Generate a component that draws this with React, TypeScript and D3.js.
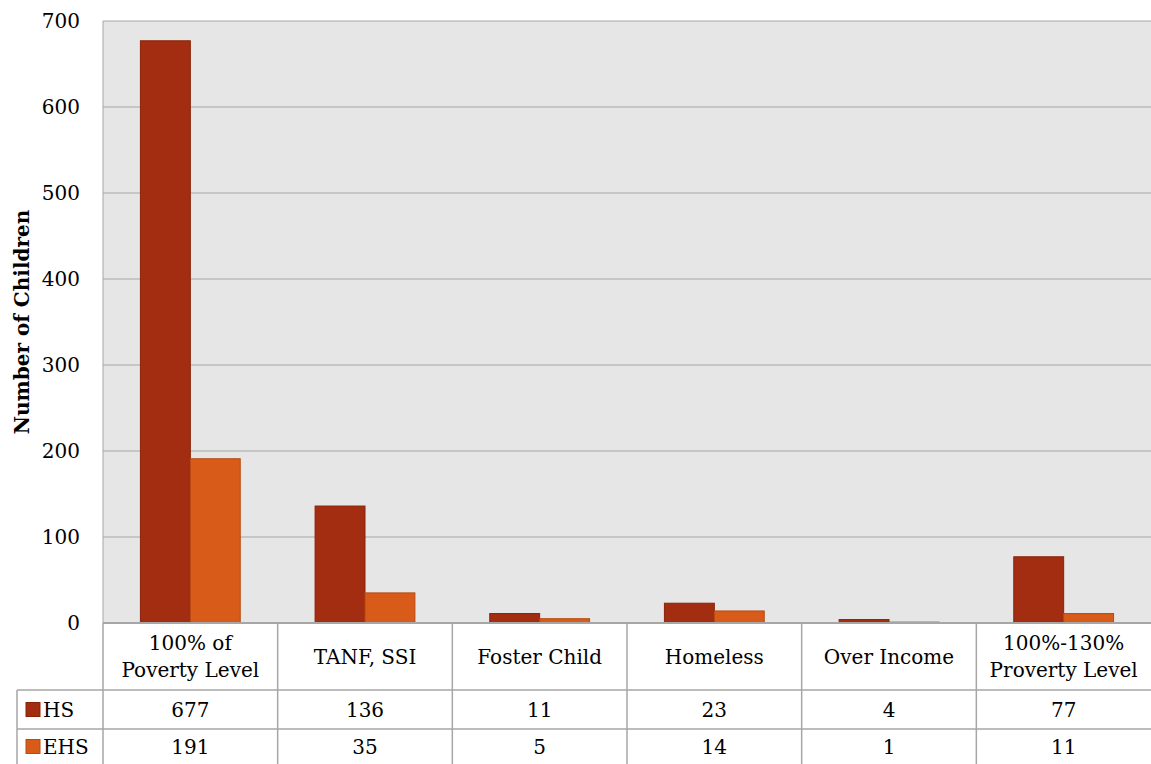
import React from "react";
import * as d3 from "d3";

const categories: string[][] = [
  ["100% of", "Poverty Level"],
  ["TANF, SSI"],
  ["Foster Child"],
  ["Homeless"],
  ["Over Income"],
  ["100%-130%", "Proverty Level"],
];
const seriesNames = ["HS", "EHS"];
const hsValues = [677, 136, 11, 23, 4, 77];
const ehsValues = [191, 35, 5, 14, 1, 11];
const yTicks = [0, 100, 200, 300, 400, 500, 600, 700];
const colors = ["#A32D11", "#D95B1A"];
const strokes = ["#8A2208", "#B84A12"];

export default function App() {
  const W = 1151, H = 764;
  const left = 103, right = 1151, top = 21, bottom = 623;
  const rowH1 = 690, rowH2 = 729, tableBottom = 764, legendLeft = 17;
  const font = "'DejaVu Serif', serif";
  const fs = 20;
  const ts: React.CSSProperties = { fontFamily: font, fontSize: fs };

  const x0 = d3.scaleBand<number>().domain(d3.range(categories.length)).range([left, right]).paddingInner(0).paddingOuter(0);
  const bw = x0.bandwidth();
  const x1 = d3.scaleBand<number>().domain([0, 1]).range([0, bw]).paddingOuter(0.75).paddingInner(0);
  const y = d3.scaleLinear().domain([0, 700]).range([bottom, top]);
  const series = [hsValues, ehsValues];
  const gridColor = "#A6A6A6";

  return (
    <svg width={W} height={H} style={{ display: "block", position: "absolute", left: 0, top: 0 }}>
      <rect x={left} y={top} width={right - left} height={bottom - top} fill="#E6E6E6" />
      {yTicks.map((t) => (
        <g key={t}>
          {t > 0 && <line x1={left} x2={right} y1={y(t)} y2={y(t)} stroke={gridColor} strokeWidth={1} />}
          <text x={80} y={y(t)} dy="0.35em" textAnchor="end" style={ts} fill="#000">{t}</text>
        </g>
      ))}
      <line x1={left} x2={left} y1={top} y2={bottom} stroke={gridColor} />
      {series.map((vals, si) =>
        vals.map((v, ci) => (
          <rect key={`${si}-${ci}`} x={(x0(ci) as number) + (x1(si) as number)} y={y(v)} width={x1.bandwidth()} height={bottom - y(v)} fill={colors[si]} stroke={strokes[si]} strokeWidth={1} />
        ))
      )}
      <line x1={left} x2={right} y1={bottom} y2={bottom} stroke={gridColor} strokeWidth={2} />
      <line x1={legendLeft} x2={right} y1={rowH1} y2={rowH1} stroke={gridColor} strokeWidth={1.5} />
      <line x1={legendLeft} x2={right} y1={rowH2} y2={rowH2} stroke={gridColor} strokeWidth={1.5} />
      <line x1={legendLeft} x2={legendLeft} y1={rowH1} y2={tableBottom} stroke={gridColor} strokeWidth={1.5} />
      {categories.map((c, ci) => (
        <line key={ci} x1={x0(ci) as number} x2={x0(ci) as number} y1={bottom} y2={tableBottom} stroke={gridColor} strokeWidth={1.5} />
      ))}
      {categories.map((lines, ci) => {
        const cx = (x0(ci) as number) + bw / 2;
        const cy = (bottom + rowH1) / 2;
        const lh = 27;
        return (
          <text key={ci} x={cx} textAnchor="middle" style={ts} fill="#000">
            {lines.map((l, li) => (
              <tspan key={li} x={cx} y={cy + (li - (lines.length - 1) / 2) * lh} dy="0.35em">{l}</tspan>
            ))}
          </text>
        );
      })}
      {series.map((vals, si) => {
        const rowTop = si === 0 ? rowH1 : rowH2;
        const rowBot = si === 0 ? rowH2 : tableBottom;
        const cy = (rowTop + rowBot) / 2;
        return (
          <g key={si}>
            <rect x={26} y={cy - 7} width={14} height={14} fill={colors[si]} stroke={strokes[si]} />
            <text x={43} y={cy} dy="0.35em" style={ts} fill="#000">{seriesNames[si]}</text>
            {vals.map((v, ci) => (
              <text key={ci} x={(x0(ci) as number) + bw / 2} y={cy} dy="0.35em" textAnchor="middle" style={ts} fill="#000">{v}</text>
            ))}
          </g>
        );
      })}
      <text transform={`translate(22, ${322}) rotate(-90)`} textAnchor="middle" dy="0.35em" style={{ ...ts, fontSize: 20, fontWeight: "bold" }} fill="#000">Number of Children</text>
    </svg>
  );
}
